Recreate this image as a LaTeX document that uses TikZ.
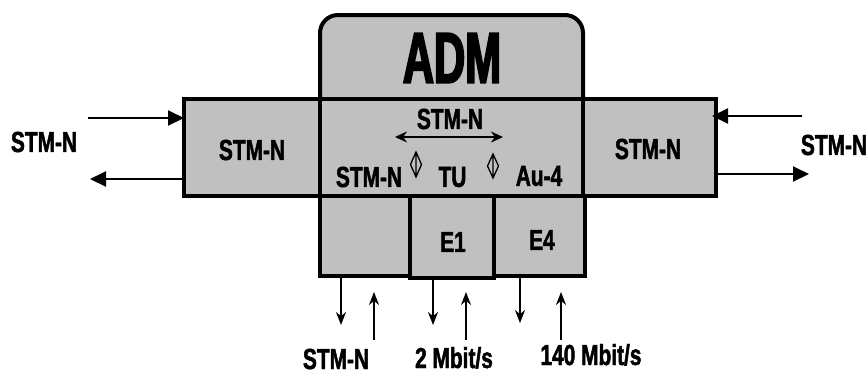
\documentclass[tikz,border=0pt]{standalone}
\usepackage{fontspec}
\setmainfont{Liberation Sans}[FakeStretch=0.72,FakeBold=1.6]
\newfontfamily\admfont{Liberation Sans}[FakeStretch=0.6,FakeBold=2.5]
\usetikzlibrary{arrows.meta}
\definecolor{boxgray}{HTML}{C0C0C0}
\begin{document}
\begin{tikzpicture}[x=1pt,y=-1pt,
  box/.style={draw=black,fill=boxgray,line width=4pt,inner sep=0pt,outer sep=0pt},
  lbl/.style={font=\fontsize{29}{29}\selectfont\bfseries,inner sep=0pt},
  harr/.style={line width=2pt,-{Triangle[length=16pt,width=15pt]}},
  varr/.style={line width=1.6pt,-{Stealth[length=13pt,width=10pt]}},
  darr/.style={line width=2pt,{Stealth[length=12pt,width=11pt]}-{Stealth[length=12pt,width=11pt]}},
  diam/.style={line width=1.3pt,draw=black}]
\useasboundingbox (0,0) rectangle (868,376);
% ADM top box
\draw[box,rounded corners=18pt] (320,110) -- (320,15) -- (583,15) -- (583,110);
\node[font=\admfont\fontsize{72}{72}\selectfont\bfseries,inner sep=0pt] (adm) at (452,58) {ADM};
% middle band
\node[box,minimum width=136,minimum height=97] (lbox) at (252,147) {};
\node[box,minimum width=263,minimum height=97] (mbox) at (451.5,147) {};
\node[box,minimum width=133,minimum height=97] (rbox) at (649.5,147) {};
\node[lbl] (ltxt) at (252,150) {STM-N};
\node[lbl] (rtxt) at (648,149) {STM-N};
% bottom boxes
\node[box,minimum width=90,minimum height=80] (bl) at (365,236) {};
\node[box,minimum width=175,minimum height=80] (bright) at (497.5,236) {};
\node[box,minimum width=84,minimum height=82] (e1) at (452,237) {};
\node[lbl] (e1t) at (453,242) {E1};
\node[lbl] (e4t) at (542,240) {E4};
% middle texts
\node[lbl] (mtop) at (450,119) {STM-N};
\node[lbl] (mstm) at (369,177) {STM-N};
\node[lbl] (mtu) at (452.5,177) {TU};
\node[lbl] (mau) at (539,176) {Au-4};
\coordinate (da) at (395,137);
\coordinate (db) at (503,137);
\draw[darr] (da) -- (db);
% diamonds
\draw[diam] (416,152) -- (421.5,164.5) -- (416,177) -- (410.5,164.5) -- cycle (416,152) -- (416,177);
\draw[diam] (493,154) -- (498.5,166) -- (493,178) -- (487.5,166) -- cycle (493,154) -- (493,178);
% left side
\node[lbl] (ll) at (44,142) {STM-N};
\coordinate (lin) at (88,118);
\coordinate (lout) at (90,179);
\draw[harr] (lin) -- (lin -| lbox.west);
\draw[harr] (lout -| lbox.west) -- (lout);
% right side
\node[lbl] (rl) at (834,145) {STM-N};
\coordinate (rin) at (802,116);
\coordinate (rinend) at (712,116);
\coordinate (rout) at (809,174);
\draw[harr] (rin) -- (rinend);
\draw[harr] (rout -| rbox.east) -- (rout);
% bottom arrows
\coordinate (d1) at (341,325);
\coordinate (u1) at (374,340);
\coordinate (u1e) at (374,292);
\coordinate (d2) at (433,325);
\coordinate (u2) at (466,340);
\coordinate (u2e) at (466,292);
\coordinate (d3) at (520,323);
\coordinate (u3) at (561,340);
\coordinate (u3e) at (561,292);
\draw[varr] (d1 |- bl.south) -- (d1);
\draw[varr] (u1) -- (u1e);
\draw[varr] (d2 |- e1.south) -- (d2);
\draw[varr] (u2) -- (u2e);
\draw[varr] (d3 |- bright.south) -- (d3);
\draw[varr] (u3) -- (u3e);
\node[lbl,anchor=base] (b1) at (336,369) {STM-N};
\node[lbl,anchor=base] (b2) at (454,368) {2 Mbit/s};
\node[lbl,anchor=base] (b3) at (591,365) {140 Mbit/s};
\end{tikzpicture}
\end{document}
